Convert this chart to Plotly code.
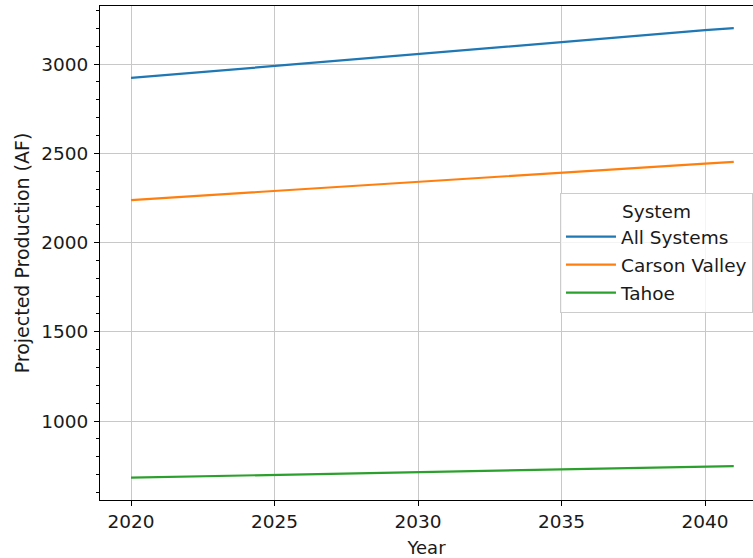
import plotly.graph_objects as go

years = [2020, 2025, 2030, 2035, 2040, 2041]
all_systems = [2922, 2990, 3058, 3122, 3190, 3201]
carson_valley = [2238, 2290, 2340, 2390, 2442, 2452]
tahoe = [683, 699, 714, 730, 746, 748]

series_names = ["All Systems", "Carson Valley", "Tahoe"]
series_values = [all_systems, carson_valley, tahoe]
colors = ["#1f77b4", "#ff7f0e", "#2ca02c"]

x_ticks = [2020, 2025, 2030, 2035, 2040]
y_ticks = [1000, 1500, 2000, 2500, 3000]

fig = go.Figure()
for i, (name, vals) in enumerate(zip(series_names, series_values)):
    fig.add_trace(go.Scatter(x=years, y=vals, mode="lines", name=name,
                             legendgroup=name,
                             line=dict(color=colors[i], width=2.2)))

def f(size):
    return dict(family="DejaVu Sans", size=size, color="#1a1a1a")

fig.update_layout(
    width=753, height=558,
    margin=dict(l=100, r=0, t=6, b=58),
    plot_bgcolor="white", paper_bgcolor="white",
    font=f(17.5),
    showlegend=True,
    legend=dict(
        title=dict(text="System", side="top center", font=f(18.5)),
        x=0.7044, y=0.6215, xanchor="left", yanchor="top",
        bgcolor="rgba(255,255,255,0.8)", bordercolor="#cccccc", borderwidth=1,
        font=f(18.5), tracegroupgap=1, itemwidth=50,
    ),
    xaxis=dict(
        range=[2018.92, 2041.67], tickvals=x_ticks, ticktext=[str(v) for v in x_ticks],
        tickfont=f(18.5),
        showline=True, linecolor="black", linewidth=1, mirror=True,
        ticks="outside", ticklen=5, tickcolor="black",
        showgrid=True, gridcolor="#c8c8c8", gridwidth=1, zeroline=False,
        title=dict(text="Year", font=f(18), standoff=11),
    ),
    yaxis=dict(
        range=[558, 3325], tickvals=y_ticks, ticktext=[str(v) for v in y_ticks],
        tickfont=f(18.5), ticklabelstandoff=2,
        showline=True, linecolor="black", linewidth=1, mirror=False,
        ticks="outside", ticklen=5, tickcolor="black",
        minor=dict(dtick=100, tick0=0, ticks="outside", ticklen=3, tickcolor="black", showgrid=False),
        showgrid=True, gridcolor="#c8c8c8", gridwidth=1, zeroline=False,
        title=dict(text="Projected Production (AF)", font=f(19), standoff=6),
    ),
)

fig.write_html("out.html", config={"displayModeBar": False},
               post_script="document.body.style.margin='0';document.body.style.overflow='hidden';")
